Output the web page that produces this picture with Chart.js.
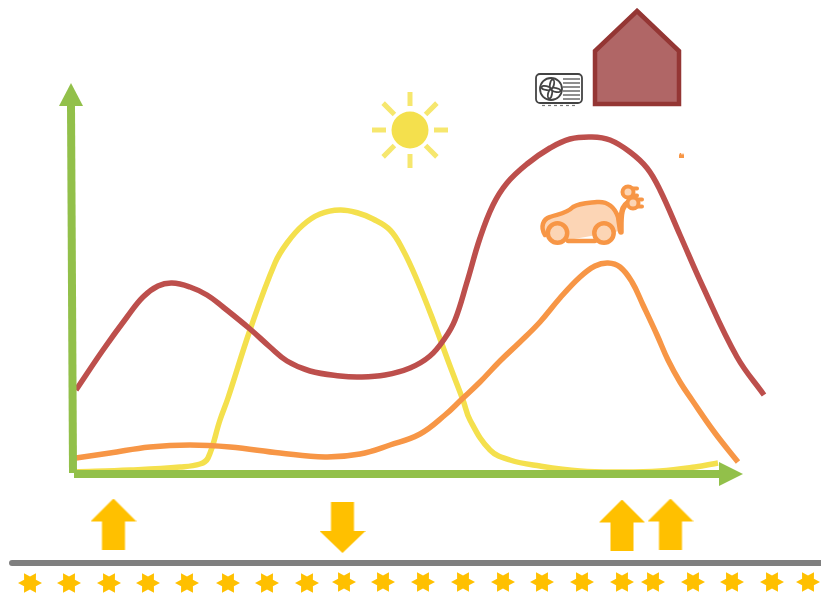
<!DOCTYPE html>
<html>
<head>
<meta charset="utf-8">
<title>Load curves</title>
<script src="https://cdn.jsdelivr.net/npm/chart.js@4/dist/chart.umd.min.js"></script>
<style>
  html, body { margin: 0; padding: 0; background: #fff; }
  canvas { display: block; }
</style>
</head>
<body>
<canvas id="loadChart" width="821" height="594"></canvas>
<script>
'use strict';

// series values, measured from where the two green axes meet
var heatX = [3, 30, 54, 70, 85, 99, 117, 134, 150, 177, 197, 214, 237, 267, 287, 312, 337, 357, 372, 382, 394, 407, 420, 434, 454, 477, 497, 519, 537, 557, 574, 587, 607, 630, 664, 691];
var heatY = [83, 123, 156, 176, 187, 190, 186, 178, 166, 144, 126, 112, 102, 97, 96, 98, 105, 117, 135, 153, 191, 235, 268, 290, 309, 325, 334, 336, 333, 321, 305, 283, 238, 186, 116, 78];

var solarX = [2, 57, 107, 127, 135, 147, 155, 177, 202, 214, 230, 247, 267, 285, 300, 317, 330, 344, 360, 377, 390, 397, 417, 437, 467, 507, 547, 587, 622, 645];
var solarY = [1, 3, 6, 9, 15, 53, 75, 143, 210, 230, 248, 259, 263, 260, 254, 243, 223, 193, 153, 107, 73, 53, 23, 13, 7, 2, 1, 2, 6, 10];

var carX = [3, 37, 77, 117, 157, 207, 252, 287, 317, 347, 372, 389, 407, 427, 447, 467, 487, 507, 522, 535, 547, 559, 570, 584, 595, 607, 619, 642, 665];
var carY = [15, 20, 26, 28, 26, 20, 16, 19, 28, 39, 58, 74, 91, 112, 131, 151, 175, 196, 207, 210, 206, 191, 168, 138, 113, 91, 73, 40, 11];

var axisUpX = [0, -2];
var axisUpY = [0, 367];
var axisRightX = [1, 648];
var axisRightY = [-1, -1];
var gridLineX = [-61, 748];
var gridLineY = [-90, -90];

var homeX = [-43, -4, 36, 75, 114, 155, 194, 234, 271, 310, 350, 390, 430, 469, 509, 549, 580, 620, 659, 699, 735];
var homeY = [-110, -110, -110, -110, -110, -110, -110, -110, -109, -109, -109, -109, -109, -109, -109, -109, -109, -109, -109, -109, -109];

var importX = [40.5, 549, 597.5];
var importY = [-51, -52, -51];
var exportX = [269.5];
var exportY = [-54.5];

var GREEN = '#92c04a';
var RED = '#bd4f4c';
var ORANGE = '#f79646';
var YELLOW = '#f4e04d';
var AMBER = '#ffc000';

function points(xs, ys) {
    return xs.map(function (x, i) { return { x: x, y: ys[i] }; });
}

function icon(w, h, paint) {
    var c = document.createElement('canvas');
    c.width = w;
    c.height = h;
    paint(c.getContext('2d'));
    return c;
}

function poly(ctx, pts) {
    ctx.beginPath();
    pts.forEach(function (p, i) {
        if (i === 0) ctx.moveTo(p[0], p[1]); else ctx.lineTo(p[0], p[1]);
    });
    ctx.closePath();
}

var upArrow = icon(46, 51, function (ctx) {
    ctx.fillStyle = AMBER;
    poly(ctx, [[23, 0], [46, 23], [34.5, 23], [34.5, 51], [11.5, 51], [11.5, 23], [0, 23]]);
    ctx.fill();
});

var downArrow = icon(46, 51, function (ctx) {
    ctx.fillStyle = AMBER;
    poly(ctx, [[11.5, 0], [34.5, 0], [34.5, 29], [46, 29], [23, 51], [0, 29], [11.5, 29]]);
    ctx.fill();
});

var star = icon(24, 24, function (ctx) {
    var pts = [];
    for (var i = 0; i < 12; i++) {
        var r = i % 2 === 0 ? 12 : 6.8;
        var a = i * Math.PI / 6;
        pts.push([12 + r * Math.cos(a), 12 + r * Math.sin(a) * 0.95]);
    }
    ctx.fillStyle = AMBER;
    poly(ctx, pts);
    ctx.fill();
});

var headUp = icon(24, 23, function (ctx) {
    ctx.fillStyle = GREEN;
    poly(ctx, [[12, 0], [24, 23], [0, 23]]);
    ctx.fill();
});

var headRight = icon(24, 24, function (ctx) {
    ctx.fillStyle = GREEN;
    poly(ctx, [[0, 0], [24, 12], [0, 24]]);
    ctx.fill();
});

var sun = icon(80, 80, function (ctx) {
    ctx.translate(40, 40);
    ctx.fillStyle = YELLOW;
    ctx.strokeStyle = '#f6e76e';
    ctx.lineWidth = 5;
    ctx.beginPath();
    ctx.arc(0, 0, 18.5, 0, Math.PI * 2);
    ctx.fill();
    for (var i = 0; i < 8; i++) {
        var a = i * Math.PI / 4;
        var r0 = i % 2 === 0 ? 24 : 22;
        ctx.beginPath();
        ctx.moveTo(r0 * Math.cos(a), r0 * Math.sin(a));
        ctx.lineTo(38 * Math.cos(a), 38 * Math.sin(a));
        ctx.stroke();
    }
});

var house = icon(92, 100, function (ctx) {
    ctx.fillStyle = '#b06666';
    ctx.strokeStyle = '#943634';
    ctx.lineWidth = 4.5;
    ctx.lineJoin = 'miter';
    poly(ctx, [[46, 3], [88, 43], [88, 96], [4, 96], [4, 43]]);
    ctx.fill();
    ctx.stroke();
});

var unit = icon(50, 36, function (ctx) {
    ctx.strokeStyle = '#444';
    ctx.lineWidth = 1.8;
    ctx.beginPath();
    ctx.roundRect(2, 2, 46, 29, 4);
    ctx.stroke();
    ctx.beginPath();
    ctx.arc(17, 17, 11, 0, Math.PI * 2);
    ctx.stroke();
    // fan blades
    for (var i = 0; i < 4; i++) {
        ctx.save();
        ctx.translate(17, 17);
        ctx.rotate(i * Math.PI / 2 + 0.2);
        ctx.beginPath();
        ctx.ellipse(5, 0, 4.6, 2, 0, 0, Math.PI * 2);
        ctx.stroke();
        ctx.restore();
    }
    ctx.lineWidth = 1.2;
    for (var j = 0; j < 6; j++) {
        ctx.beginPath();
        ctx.moveTo(29, 7 + j * 4);
        ctx.lineTo(46, 7 + j * 4);
        ctx.stroke();
    }
    ctx.strokeStyle = '#777';
    ctx.setLineDash([3, 3]);
    ctx.beginPath();
    ctx.moveTo(8, 33.5);
    ctx.lineTo(42, 33.5);
    ctx.stroke();
});

function carBody(ctx) {
    ctx.moveTo(7, 52);
    ctx.bezierCurveTo(2, 44, 5, 36, 12, 34);
    ctx.bezierCurveTo(20, 31, 28, 31, 35, 24);
    ctx.bezierCurveTo(42, 20, 52, 20, 59, 19);
    ctx.bezierCurveTo(70, 18, 77, 25, 80, 34);
    ctx.lineTo(82, 48);
}

var car = icon(110, 64, function (ctx) {
    ctx.strokeStyle = ORANGE;
    ctx.fillStyle = '#fcd5b5';
    ctx.lineWidth = 4.5;
    ctx.lineCap = 'round';
    ctx.lineJoin = 'round';
    ctx.beginPath();
    carBody(ctx);
    ctx.lineTo(30, 57);
    ctx.closePath();
    ctx.fill();
    ctx.beginPath();
    carBody(ctx);
    ctx.stroke();
    ctx.beginPath();
    ctx.moveTo(30, 58);
    ctx.lineTo(57, 58);
    ctx.stroke();
    // wheels
    [[19.5, 50], [66, 50]].forEach(function (w) {
        ctx.beginPath();
        ctx.arc(w[0], w[1], 9.7, 0, Math.PI * 2);
        ctx.fill();
        ctx.stroke();
    });
    // cable
    ctx.lineWidth = 5.5;
    ctx.beginPath();
    ctx.moveTo(83, 49);
    ctx.bezierCurveTo(83, 35, 82, 22, 92, 19);
    ctx.stroke();
    // plugs
    ctx.lineWidth = 4;
    [[90, 9], [95, 20]].forEach(function (p) {
        ctx.beginPath();
        ctx.arc(p[0], p[1], 5.5, 0, Math.PI * 2);
        ctx.fill();
        ctx.stroke();
        ctx.beginPath();
        ctx.moveTo(p[0] + 5, p[1] - 3.5);
        ctx.lineTo(p[0] + 9, p[1] - 3.5);
        ctx.moveTo(p[0] + 5, p[1] + 3.5);
        ctx.lineTo(p[0] + 9, p[1] + 3.5);
        ctx.stroke();
    });
});

var speck = icon(6, 5, function (ctx) {
    ctx.fillStyle = ORANGE;
    ctx.fillRect(0, 1.5, 5, 3.5);
    ctx.fillRect(1, 0, 1, 2);
});

function curve(label, xs, ys, color, order) {
    return {
        label: label,
        data: points(xs, ys),
        borderColor: color,
        borderWidth: 5.5,
        pointRadius: 0,
        tension: 0.4,
        fill: false,
        order: order
    };
}

function straight(label, xs, ys, color, width, cap, order) {
    return {
        label: label,
        data: points(xs, ys),
        borderColor: color,
        borderWidth: width,
        borderCapStyle: cap,
        pointRadius: 0,
        fill: false,
        order: order
    };
}

function marks(label, xs, ys, image, order) {
    return {
        label: label,
        data: points(xs, ys),
        showLine: false,
        pointStyle: image,
        pointRadius: 5,
        order: order
    };
}

new Chart(document.getElementById('loadChart'), {
    type: 'line',
    data: {
        datasets: [
            marks('Axis head y', [-2], [378.5], headUp, 1),
            marks('Axis head x', [658], [-1], headRight, 1),
            straight('Y axis', axisUpX, axisUpY, GREEN, 8, 'butt', 2),
            straight('X axis', axisRightX, axisRightY, GREEN, 8, 'butt', 2),
            curve('Heating', heatX, heatY, RED, 3),
            curve('Car', carX, carY, ORANGE, 4),
            curve('Solar', solarX, solarY, YELLOW, 5),
            straight('Grid', gridLineX, gridLineY, '#7f7f7f', 6, 'round', 6),
            marks('Import', importX, importY, upArrow, 7),
            marks('Export', exportX, exportY, downArrow, 7),
            marks('Homes', homeX, homeY, star, 7),
            marks('Sun', [337], [343], sun, 8),
            marks('House', [564], [415], house, 8),
            marks('Heat pump', [486], [383], unit, 8),
            marks('Electric car', [520], [258], car, 8),
            marks('Speck', [609], [318], speck, 8)
        ]
    },
    options: {
        responsive: false,
        animation: false,
        events: [],
        layout: { padding: 0, autoPadding: false },
        plugins: { legend: { display: false }, tooltip: { enabled: false } },
        scales: {
            x: { type: 'linear', display: false, min: -73, max: 748 },
            y: { type: 'linear', display: false, min: -121, max: 473 }
        }
    }
});
</script>
</body>
</html>
